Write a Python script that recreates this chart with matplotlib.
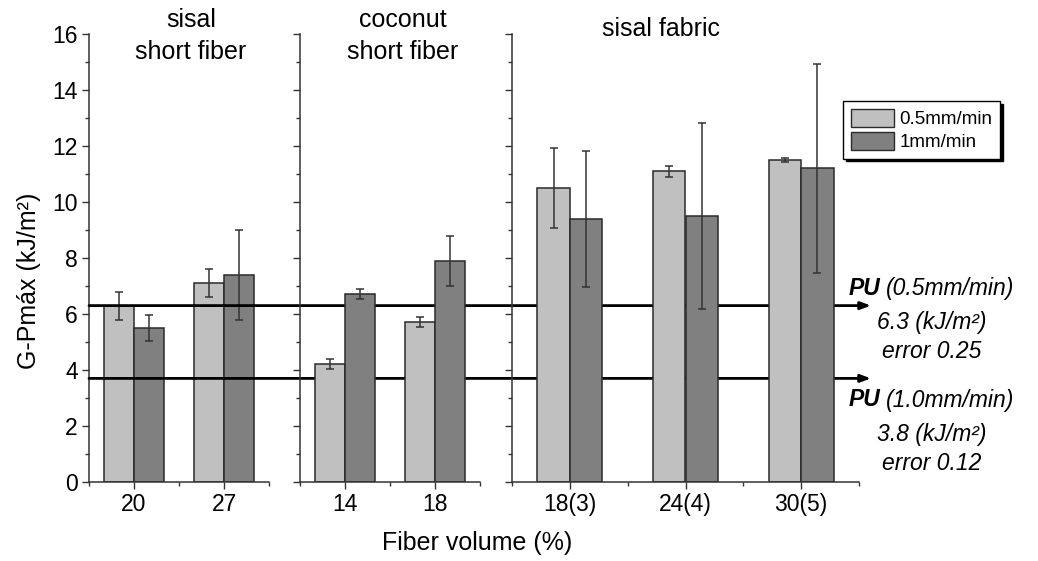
import numpy as np
from matplotlib import pyplot as plt
from matplotlib import transforms
from matplotlib.patches import Patch

plt.rcParams['font.family'] = ['Liberation Sans', 'DejaVu Sans']

# --- data ---
sisal_short_labels = ['20', '27']
sisal_short_slow = [6.3, 7.1]
sisal_short_slow_err = [0.5, 0.5]
sisal_short_fast = [5.5, 7.4]
sisal_short_fast_err = [0.45, 1.6]

coconut_labels = ['14', '18']
coconut_slow = [4.2, 5.7]
coconut_slow_err = [0.18, 0.18]
coconut_fast = [6.7, 7.9]
coconut_fast_err = [0.18, 0.9]

fabric_labels = ['18(3)', '24(4)', '30(5)']
fabric_slow = [10.5, 11.1, 11.5]
fabric_slow_err = [1.44, 0.2, 0.07]
fabric_fast = [9.4, 9.5, 11.2]
fabric_fast_err = [2.43, 3.33, 3.73]

pu_levels = [6.3, 3.7]
series_names = ['0.5mm/min', '1mm/min']

LIGHT = '#c0c0c0'
DARK = '#808080'
EDGE = '#2a2a2a'

W, H = 1038, 561
fig = plt.figure(figsize=(W / 100, H / 100), dpi=100)

def px_rect(x0, x1, y_top=34, y_bot=482):
  return [x0 / W, 1 - y_bot / H, (x1 - x0) / W, (y_bot - y_top) / H]

panels = [
  # (rect, labels, slow, slow_err, fast, fast_err, bar width)
  (px_rect(89, 269), sisal_short_labels, sisal_short_slow, sisal_short_slow_err,
   sisal_short_fast, sisal_short_fast_err, 0.33),
  (px_rect(300, 480), coconut_labels, coconut_slow, coconut_slow_err,
   coconut_fast, coconut_fast_err, 0.33),
  (px_rect(512, 859), fabric_labels, fabric_slow, fabric_slow_err,
   fabric_fast, fabric_fast_err, 0.28),
]

axes = []
for i, (rect, labels, slow, slow_err, fast, fast_err, bw) in enumerate(panels):
  ax = fig.add_axes(rect)
  n = len(labels)
  x = np.arange(n) + 0.5
  err_kw = dict(ecolor='#333333', elinewidth=1.1, capsize=3, capthick=1.1)
  ax.bar(x - bw / 2, slow, bw, yerr=slow_err, color=LIGHT, edgecolor=EDGE,
         linewidth=1.1, error_kw=err_kw, zorder=2)
  ax.bar(x + bw / 2, fast, bw, yerr=fast_err, color=DARK, edgecolor=EDGE,
         linewidth=1.1, error_kw=err_kw, zorder=2)
  ax.set_xlim(0, n)
  ax.set_ylim(0, 16)
  ax.set_xticks(x)
  ax.set_xticklabels(labels, fontsize=16.5)
  ax.set_xticks(np.arange(n + 1), minor=True)
  ax.set_yticks(np.arange(0, 17, 2))
  ax.set_yticks(np.arange(0, 17, 1), minor=True)
  if i > 0:
    ax.set_yticklabels([])
  else:
    ax.tick_params(axis='y', labelsize=16.5)
  ax.tick_params(which='major', direction='out', length=5, width=1, color='#333333', pad=3)
  ax.tick_params(which='minor', direction='out', length=3, width=1, color='#333333')
  for s in ['top', 'right']:
    ax.spines[s].set_visible(False)
  for s in ['left', 'bottom']:
    ax.spines[s].set_linewidth(1.1)
    ax.spines[s].set_color('#333333')
  ax.patch.set_alpha(0)
  axes.append(ax)

# panel titles
fig.text(191 / W, 1 - 36 / H, 'sisal\nshort fiber', ha='center', va='center',
         fontsize=18, linespacing=1.45)
fig.text(403 / W, 1 - 36 / H, 'coconut\nshort fiber', ha='center', va='center',
         fontsize=18, linespacing=1.45)
fig.text(661 / W, 1 - 29 / H, 'sisal fabric', ha='center', va='center', fontsize=18)

# axis labels
fig.text(477 / W, 1 - 543 / H, 'Fiber volume (%)', ha='center', va='center', fontsize=18)
fig.text(29 / W, 1 - 281 / H, 'G-Pmáx (kJ/m²)', ha='center', va='center',
         rotation=90, fontsize=18)

# PU reference arrows across all panels
ax1 = axes[0]
tr = transforms.blended_transform_factory(fig.transFigure, ax1.transData)
for lvl in pu_levels:
  ax1.annotate('', xy=(871 / W, lvl), xytext=(89 / W, lvl), xycoords=tr, textcoords=tr,
               arrowprops=dict(arrowstyle='-|>,head_length=0.6,head_width=0.22',
                               lw=2, color='black', shrinkA=0, shrinkB=0),
               annotation_clip=False, zorder=5)

# PU annotation texts
pu_blocks = [
  (288, '(0.5mm/min)', '6.3 (kJ/m²)', 'error 0.25'),
  (400, '(1.0mm/min)', '3.8 (kJ/m²)', 'error 0.12'),
]
for y0, rate, val, err in pu_blocks:
  fig.text(880 / W, 1 - y0 / H, 'PU', ha='right', va='center', fontsize=16.5,
           fontweight='bold', style='italic')
  fig.text(886 / W, 1 - y0 / H, rate, ha='left', va='center', fontsize=16.5, style='italic')
  fig.text(932 / W, 1 - (y0 + 35) / H, val, ha='center', va='center', fontsize=16.5,
           style='italic')
  fig.text(932 / W, 1 - (y0 + 63) / H, err, ha='center', va='center', fontsize=16.5,
           style='italic')

# legend
handles = [Patch(facecolor=LIGHT, edgecolor=EDGE, label=series_names[0]),
           Patch(facecolor=DARK, edgecolor=EDGE, label=series_names[1])]
fig.legend(handles=handles, loc='upper left', bbox_to_anchor=(843 / W, 1 - 101 / H),
           fontsize=13.5, frameon=True, fancybox=False, edgecolor='black',
           shadow={'color': 'black', 'alpha': 1}, borderpad=0.4, labelspacing=0.2,
           handlelength=2.3, handleheight=1.1, handletextpad=0.3, borderaxespad=0)

fig.savefig('out.png', dpi=100)
